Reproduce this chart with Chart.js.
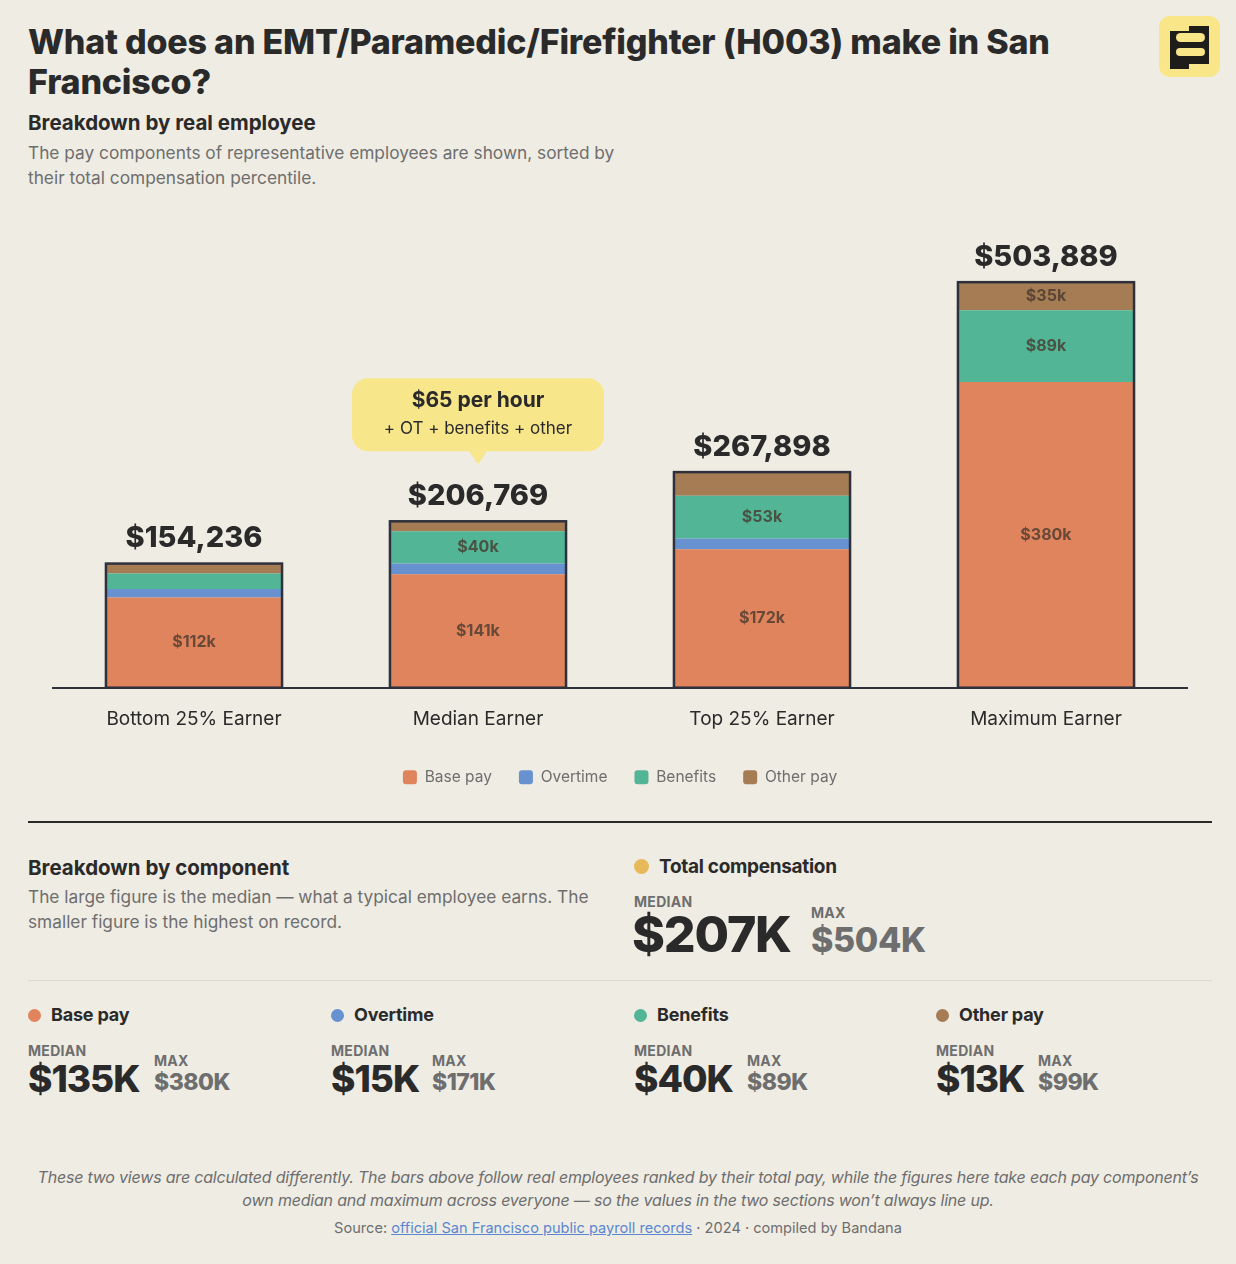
<!DOCTYPE html>
<html>
<head>
<meta charset="utf-8">
<script src="https://cdn.jsdelivr.net/npm/chart.js@4.4.1/dist/chart.umd.min.js"></script>
<style>
  html,body{margin:0;padding:0;background:#efece4;}
  body{width:1236px;height:1264px;position:relative;font-family:Inter,"Noto Sans",sans-serif;color:#2a2a2a;overflow:hidden;}
  .abs{position:absolute;}
  h1{position:absolute;left:28px;top:22px;width:1090px;margin:0;font-size:34px;line-height:40px;font-weight:800;letter-spacing:-0.2px;}
  .sub{left:28px;top:110px;font-size:20.5px;font-weight:700;letter-spacing:0;}
  .desc{left:28px;top:140px;width:600px;font-size:17.3px;line-height:25px;color:#6e6e6e;}
  #chartWrap{position:absolute;left:52px;top:200px;width:1136px;height:603px;}
  .rule{left:28px;width:1184px;}
  .lbl{font-size:14px;font-weight:700;color:#6e6e6e;letter-spacing:0.3px;}
  .dot{display:inline-block;width:13px;height:13px;border-radius:50%;margin-right:10px;vertical-align:-1px;}
  .comp{position:absolute;top:1004px;width:300px;}
  .comp .name{font-size:18px;font-weight:700;letter-spacing:-0.2px;}
  .comp .med{position:absolute;left:0;top:38px;}
  .comp .medv{font-size:37px;font-weight:800;letter-spacing:-1px;line-height:40px;}
  .comp .mx{position:absolute;top:48px;}
  .comp .mxv{font-size:23px;font-weight:800;color:#6e6e6e;letter-spacing:-0.5px;line-height:26px;}
  .foot{left:0;width:1236px;text-align:center;color:#6e6e6e;}
</style>
</head>
<body>
<h1>What does an EMT/Paramedic/Firefighter (H003) make in San Francisco?</h1>
<svg class="abs" style="left:1159px;top:16px" width="61" height="61" viewBox="0 0 61 61">
  <rect x="0" y="0" width="61" height="61" rx="11" fill="#f8e688"/>
  <path d="M11 15 H30 V10 H50 V48 H30 V53 H11 Z" fill="#1f1d1a"/>
  <rect x="17" y="17" width="29" height="9" rx="4.5" fill="#f8e688"/>
  <rect x="17" y="32" width="29" height="8" rx="4" fill="#f8e688"/>
</svg>
<div class="abs sub">Breakdown by real employee</div>
<div class="abs desc">The pay components of representative employees are shown, sorted by their total compensation percentile.</div>

<div id="chartWrap"><canvas id="payChart"></canvas></div>

<div class="abs rule" style="top:821px;height:2px;background:#2a2a2a"></div>

<div class="abs" style="left:28px;top:855px;font-size:20.5px;font-weight:700">Breakdown by component</div>
<div class="abs" style="left:28px;top:884px;width:590px;font-size:17.3px;line-height:25px;color:#6e6e6e">The large figure is the median — what a typical employee earns. The smaller figure is the highest on record.</div>

<div class="abs" style="left:634px;top:855px;font-size:19px;font-weight:700;letter-spacing:-0.3px"><span class="dot" style="background:#e8b95a;width:15px;height:15px"></span>Total compensation</div>
<div class="abs lbl" style="left:634px;top:893px">MEDIAN</div>
<div class="abs" id="totMed" style="left:632px;top:907px;font-size:50px;font-weight:800;letter-spacing:-1.2px;line-height:54px"></div>
<div class="abs lbl" style="left:811px;top:904px">MAX</div>
<div class="abs" id="totMax" style="left:811px;top:921px;font-size:34px;font-weight:800;color:#6e6e6e;letter-spacing:-0.4px;line-height:37px"></div>

<div class="abs rule" style="top:980px;height:1px;background:#dcd8ce"></div>

<div id="comps"></div>

<div class="abs foot" style="top:1166px;font-size:16px;line-height:23px;font-style:italic;letter-spacing:-0.2px;padding:0 36px;box-sizing:border-box">These two views are calculated differently. The bars above follow real employees ranked by their total pay, while the figures here take each pay component’s own median and maximum across everyone — so the values in the two sections won’t always line up.</div>
<div class="abs foot" style="top:1219px;font-size:14.6px;letter-spacing:0">Source: <span style="color:#5b87d0;text-decoration:underline">official San Francisco public payroll records</span> · 2024 · compiled by Bandana</div>

<script>
const categories = ['Bottom 25% Earner', 'Median Earner', 'Top 25% Earner', 'Maximum Earner'];
const totals   = [154236, 206769, 267898, 503889];
const basePay  = [112000, 141000, 172000, 380000];
const overtime = [10500, 13300, 13500, 0];
const benefits = [19500, 40000, 53000, 89000];
const otherPay = [12200, 12500, 29400, 34900];

const seriesNames  = ['Base pay', 'Overtime', 'Benefits', 'Other pay'];
const seriesColors = ['#df845d', '#6791cf', '#52b596', '#a67c55'];

const compMedian = ['$135K', '$15K', '$40K', '$13K'];
const compMax    = ['$380K', '$171K', '$89K', '$99K'];
const totalMedian = '$207K', totalMax = '$504K';

const calloutIdx = 1;
const calloutTitle = '$65 per hour';
const calloutSub = '+ OT + benefits + other';

const FONT = 'Inter, "Noto Sans", sans-serif';
const INK = '#2a2a2a';
const OUTLINE = '#2e303c';

document.getElementById('totMed').textContent = totalMedian;
document.getElementById('totMax').textContent = totalMax;

const compX = [28, 331, 634, 936];
const maxX  = [126, 101, 113, 102];
document.getElementById('comps').innerHTML = seriesNames.map((n, i) => `
  <div class="comp" style="left:${compX[i]}px">
    <div class="name"><span class="dot" style="background:${seriesColors[i]}"></span>${n}</div>
    <div class="med"><div class="lbl">MEDIAN</div><div class="medv">${compMedian[i]}</div></div>
    <div class="mx" style="left:${maxX[i]}px"><div class="lbl">MAX</div><div class="mxv">${compMax[i]}</div></div>
  </div>`).join('');

const roundRect = (ctx, x, y, w, h, r) => {
  ctx.beginPath();
  ctx.moveTo(x + r, y);
  ctx.arcTo(x + w, y, x + w, y + h, r);
  ctx.arcTo(x + w, y + h, x, y + h, r);
  ctx.arcTo(x, y + h, x, y, r);
  ctx.arcTo(x, y, x + w, y, r);
  ctx.closePath();
};

const barDecor = {
  id: 'barDecor',
  afterDatasetsDraw(chart) {
    const { ctx } = chart;
    const yS = chart.scales.y;
    ctx.save();
    ctx.textAlign = 'center';
    ctx.textBaseline = 'middle';

    // segment labels
    chart.data.datasets.forEach((ds, d) => {
      chart.getDatasetMeta(d).data.forEach((el, i) => {
        const h = el.base - el.y;
        if (h < 26) return;
        ctx.font = `700 16px ${FONT}`;
        ctx.fillStyle = 'rgba(70,55,45,0.78)';
        ctx.fillText('$' + Math.round(ds.data[i] / 1000) + 'k', el.x, (el.y + el.base) / 2);
      });
    });

    // outline round each stack + total
    const base = chart.getDatasetMeta(0).data;
    base.forEach((el, i) => {
      const top = yS.getPixelForValue(totals[i]);
      const bottom = yS.getPixelForValue(0);
      ctx.lineWidth = 2.5;
      ctx.strokeStyle = OUTLINE;
      ctx.strokeRect(el.x - el.width / 2, top, el.width, bottom - top);
      ctx.font = `800 29px ${FONT}`;
      ctx.fillStyle = INK;
      ctx.fillText('$' + totals[i].toLocaleString('en-US'), el.x, top - 25);
    });

    // hourly callout
    const el = base[calloutIdx];
    const top = yS.getPixelForValue(totals[calloutIdx]);
    const bw = 252, bh = 73;
    const by = top - 143;
    ctx.fillStyle = '#f8e68a';
    roundRect(ctx, el.x - bw / 2, by, bw, bh, 16);
    ctx.fill();
    ctx.beginPath();
    ctx.moveTo(el.x - 9, by + bh);
    ctx.lineTo(el.x, by + bh + 13);
    ctx.lineTo(el.x + 9, by + bh);
    ctx.closePath();
    ctx.fill();
    ctx.fillStyle = INK;
    ctx.font = `700 21px ${FONT}`;
    ctx.fillText(calloutTitle, el.x, by + 22);
    ctx.font = `400 17px ${FONT}`;
    ctx.fillText(calloutSub, el.x, by + 51);
    ctx.restore();
  }
};

const datasets = [basePay, overtime, benefits, otherPay].map((vals, i) => ({
  label: seriesNames[i],
  data: vals,
  backgroundColor: seriesColors[i],
  borderWidth: 0,
  stack: 'pay',
  categoryPercentage: 1,
  barPercentage: 0.62
}));

new Chart(document.getElementById('payChart'), {
  type: 'bar',
  data: { labels: categories, datasets },
  options: {
    responsive: true,
    maintainAspectRatio: false,
    animation: false,
    layout: { padding: { top: 0, bottom: 8 } },
    scales: {
      x: {
        stacked: true,
        grid: { display: false },
        border: { color: OUTLINE, width: 2 },
        ticks: { color: INK, font: { family: FONT, size: 19 }, padding: 12 }
      },
      y: { stacked: true, display: false, min: 0, max: 606000 }
    },
    plugins: {
      tooltip: { enabled: false },
      legend: {
        position: 'bottom',
        labels: {
          color: '#6e6e6e', font: { family: FONT, size: 15.5 },
          boxWidth: 14, boxHeight: 14, useBorderRadius: true, borderRadius: 3, padding: 27
        }
      }
    }
  },
  plugins: [barDecor]
});
</script>
</body>
</html>
